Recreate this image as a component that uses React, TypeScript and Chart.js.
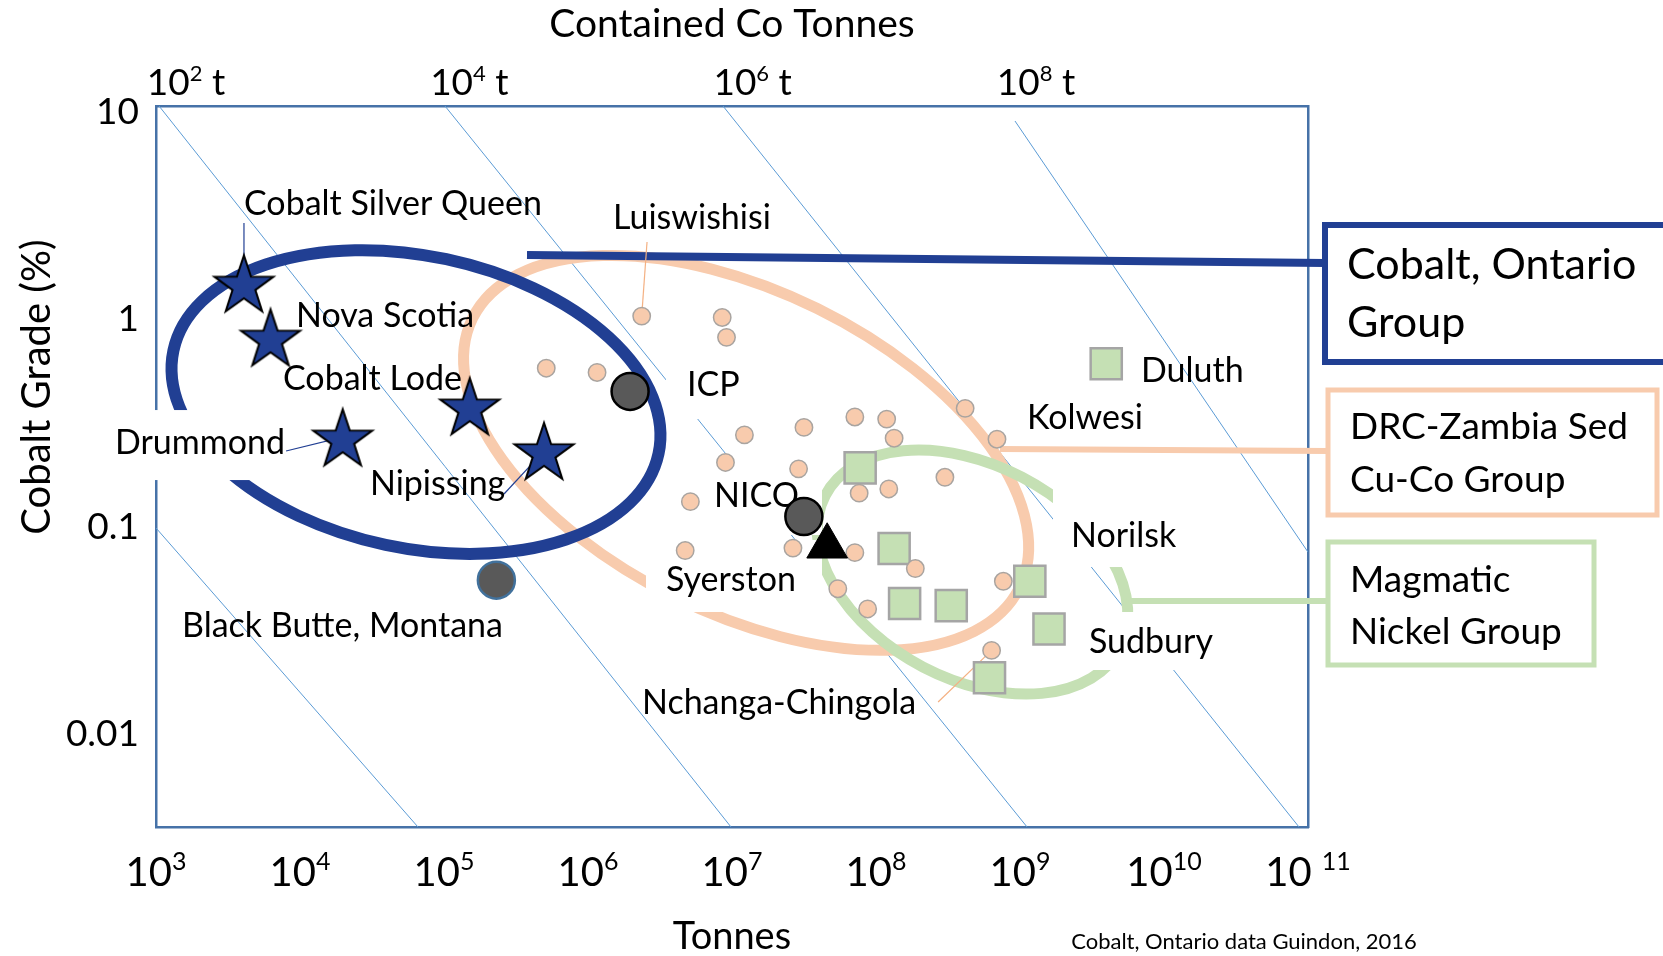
import React, { useEffect, useRef } from 'react';
import { Chart, registerables } from 'chart.js';

Chart.register(...registerables);

const FONT = 'Lato, "Open Sans", "DejaVu Sans", sans-serif';

// ---------------- axes ----------------
const tonnesMin = 1e3;
const tonnesMax = 1e11;
const tonnesTicks = [1e3, 1e4, 1e5, 1e6, 1e7, 1e8, 1e9, 1e10, 1e11];
const tonnesTickBase = ['10', '10', '10', '10', '10', '10', '10', '10', '10 '];
const tonnesTickExp = ['3', '4', '5', '6', '7', '8', '9', '10', '11'];

const containedMin = 61.4;
const containedMax = 8.32e9;
const containedTicks = [1e2, 1e4, 1e6, 1e8];
const containedTickExp = ['2', '4', '6', '8'];

const gradeMin = 0.00356;
const gradeMax = 10.68;
const gradeTicks = [0.01, 0.1, 1, 10];
const gradeTickLabels = ['0.01', '0.1', '1', '10'];

// ---------------- data ----------------
// Cobalt, Ontario group (stars)
const ontarioNames = ['Cobalt Silver Queen', 'Nova Scotia', 'Cobalt Lode', 'Drummond', 'Nipissing'];
const ontarioTonnes = [4080, 6240, 151000, 19800, 495000];
const ontarioGrade = [1.49, 0.818, 0.381, 0.27, 0.232];

// DRC-Zambia sediment-hosted Cu-Co deposits
const drcTonnes = [2.36e6, 8.55e6, 9.16e6, 5.13e5, 1.156e6, 1.22e7, 3.16e7, 7.13e7, 1.186e8, 1.336e8, 4.16e8, 6.92e8, 9.01e6, 2.9e7, 7.64e7, 1.227e8, 3.01e8, 5.14e6, 4.73e6, 2.65e7, 7.13e7, 1.875e8, 7.66e8, 5.43e7, 8.75e7, 6.35e8];
const drcGrade = [1.036, 1.02, 0.818, 0.581, 0.554, 0.277, 0.301, 0.338, 0.33, 0.267, 0.372, 0.264, 0.204, 0.19, 0.145, 0.152, 0.173, 0.132, 0.0767, 0.0788, 0.0749, 0.0628, 0.0545, 0.0502, 0.0401, 0.0253];

// Magmatic nickel deposits
const niTonnes = [3.97e9, 7.76e7, 1.336e8, 1.58e8, 3.33e8, 1.17e9, 1.59e9, 6.14e8];
const niGrade = [0.61, 0.192, 0.0785, 0.0426, 0.0416, 0.0545, 0.0321, 0.01866];

// Other deposits
const otherNames = ['ICP', 'NICO', 'Black Butte, Montana'];
const otherTonnes = [1.96e6, 3.155e7, 2.31e5];
const otherGrade = [0.449, 0.112, 0.0552];

const syerstonTonnes = [4.58e7];
const syerstonGrade = [0.0804];

// contained-metal guide lines (start / end)
const guideStartTonnes = [1000, 1050, 1.016e5, 8.66e6, 9.23e8];
const guideStartGrade = [0.0985, 10.68, 10.68, 10.68, 9.04];
const guideEndTonnes = [65960, 9.84e6, 1.12e9, 8.66e10, 1e11];
const guideEndGrade = [0.00356, 0.00356, 0.00356, 0.00356, 0.0754];

// group envelopes: centre, end of major axis, end of minor axis (data units)
const ontarioEnvelope = { center: [6.39e4, 0.399], majorEnd: [3.09e6, 0.225], minorEnd: [3.93e4, 0.0817] };
const drcEnvelope = { center: [1.253e7, 0.2268], majorEnd: [9.93e8, 0.0508], minorEnd: [4.03e6, 0.0456] };
const niEnvelope = { center: [4.68e8, 0.0604], majorEnd: [4.93e9, 0.0258], minorEnd: [2.12e8, 0.02105] };

// connector origins (data units)
const ontarioConnectorFrom = [3.77e5, 2.04];
const drcConnectorFrom = [7.26e8, 0.2367];
const niConnectorFrom = [5.53e9, 0.0438];

// deposit labels (left / middle anchor, data units)
const labelTexts = ['Cobalt Silver Queen', 'Nova Scotia', 'Cobalt Lode', 'Drummond', 'Nipissing', 'Luiswishisi', 'ICP', 'NICO', 'Syerston', 'Black Butte, Montana', 'Nchanga-Chingola', 'Duluth', 'Kolwesi', 'Norilsk', 'Sudbury'];
const labelTonnes = [4083, 9376, 7620, 519, 30600, 1.49e6, 4.87e6, 7.5e6, 3.48e6, 1516, 2.37e6, 6.92e9, 1.12e9, 2.26e9, 3.01e9];
const labelGrade = [3.6, 1.037, 0.515, 0.253, 0.1605, 3.08, 0.482, 0.1405, 0.0553, 0.0332, 0.0141, 0.563, 0.334, 0.0901, 0.02777];

// leader lines
const leaderFromTonnes = [4083, 8000, 2.61e5, 2.57e6, 2.7e8];
const leaderFromGrade = [2.91, 0.2316, 0.1437, 2.36, 0.01426];
const leaderToTonnes = [4080, 19800, 495000, 2.36e6, 6.35e8];
const leaderToGrade = [1.49, 0.27, 0.232, 1.036, 0.0253];

// ---------------- styles ----------------
const NAVY = '#213F93';
const PEACH = '#F8CBAD';
const PEACH_LINE = '#F4B183';
const GREEN = '#C5E0B4';
const FRAME = '#4672A8';
const GUIDE = '#5B9BD5';

const leaderColors = [NAVY, NAVY, NAVY, PEACH_LINE, PEACH_LINE];

// white masks behind some labels: [dx0, dy0, dx1, dy1] px relative to anchor
const labelMasks: Record<string, number[]> = {
  Drummond: [-7, -33, 181, 37],
  ICP: [-21, -35, 66, 34],
  NICO: [-14, -43, 108, 39],
  Syerston: [-20, -40, 156, 32],
  Norilsk: [-18, -48, 128, 31],
  Sudbury: [-14, -30, 146, 28],
};

const legendBoxes = [
  { lines: ['Cobalt, Ontario', 'Group'], x: 1325, y: 225, w: 345, h: 137, color: NAVY, bw: 6, size: 43, textX: 1347, lineY: [265, 323], joinY: 263, from: ontarioConnectorFrom, joinW: 8 },
  { lines: ['DRC-Zambia Sed', 'Cu-Co Group'], x: 1328, y: 390, w: 329, h: 125, color: PEACH, bw: 5, size: 37, textX: 1350, lineY: [427, 480], joinY: 451, from: drcConnectorFrom, joinW: 6 },
  { lines: ['Magmatic', 'Nickel Group'], x: 1328, y: 542, w: 266, h: 123, color: GREEN, bw: 5, size: 37, textX: 1350, lineY: [580, 632], joinY: 601, from: niConnectorFrom, joinW: 6 },
];

function makeStar(outer: number, inner: number, fill: string, stroke: string, lw: number) {
  const size = Math.ceil(outer * 2 + lw * 2 + 6);
  const c = document.createElement('canvas');
  c.width = size;
  c.height = size;
  const ctx = c.getContext('2d') as CanvasRenderingContext2D;
  const cx = size / 2;
  const cy = size / 2 + outer * 0.095;
  ctx.beginPath();
  for (let i = 0; i < 10; i++) {
    const r = i % 2 === 0 ? outer : inner;
    const ang = -Math.PI / 2 + (i * Math.PI) / 5;
    const px = cx + r * Math.cos(ang);
    const py = cy + r * Math.sin(ang);
    if (i === 0) ctx.moveTo(px, py);
    else ctx.lineTo(px, py);
  }
  ctx.closePath();
  ctx.fillStyle = fill;
  ctx.fill();
  ctx.lineWidth = lw;
  ctx.lineJoin = 'miter';
  ctx.strokeStyle = stroke;
  ctx.stroke();
  return c;
}

function drawPower(ctx: CanvasRenderingContext2D, base: string, exp: string, suffix: string, cx: number, cy: number, size: number, supRatio: number) {
  const sup = Math.round(size * supRatio);
  ctx.font = `${size}px ${FONT}`;
  const wb = ctx.measureText(base).width;
  const ws = suffix ? ctx.measureText(suffix).width : 0;
  ctx.font = `${sup}px ${FONT}`;
  const we = ctx.measureText(exp).width;
  let x = cx - (wb + we + ws) / 2;
  const by = cy + size * 0.36;
  ctx.textAlign = 'left';
  ctx.textBaseline = 'alphabetic';
  ctx.fillStyle = '#000';
  ctx.font = `${size}px ${FONT}`;
  ctx.fillText(base, x, by);
  x += wb;
  ctx.font = `${sup}px ${FONT}`;
  ctx.fillText(exp, x, by - size * 0.4);
  x += we;
  if (suffix) {
    ctx.font = `${size}px ${FONT}`;
    ctx.fillText(suffix, x, by);
  }
}

function drawOverlay(chart: any) {
  const ctx: CanvasRenderingContext2D = chart.ctx;
  const xs = chart.scales.x;
  const ys = chart.scales.y;
  const P = (p: number[]) => ({ x: xs.getPixelForValue(p[0]), y: ys.getPixelForValue(p[1]) });
  ctx.save();

  const envs = [
    { e: drcEnvelope, color: PEACH, w: 11 },
    { e: niEnvelope, color: GREEN, w: 11 },
    { e: ontarioEnvelope, color: NAVY, w: 12 },
  ];
  for (const { e, color, w } of envs) {
    const c = P(e.center);
    const a = P(e.majorEnd);
    const b = P(e.minorEnd);
    const ra = Math.hypot(a.x - c.x, a.y - c.y);
    const rb = Math.hypot(b.x - c.x, b.y - c.y);
    const rot = Math.atan2(a.y - c.y, a.x - c.x);
    ctx.beginPath();
    ctx.ellipse(c.x, c.y, ra, rb, rot, 0, Math.PI * 2);
    ctx.lineWidth = w;
    ctx.strokeStyle = color;
    ctx.stroke();
  }

  // connectors to legend boxes
  for (const lb of legendBoxes) {
    const s = P(lb.from);
    ctx.beginPath();
    ctx.moveTo(s.x, s.y);
    ctx.lineTo(lb.x, lb.joinY);
    ctx.lineWidth = lb.joinW;
    ctx.strokeStyle = lb.color;
    ctx.lineCap = 'butt';
    ctx.stroke();
  }

  // white masks behind some labels
  ctx.fillStyle = '#fff';
  labelTexts.forEach((t, i) => {
    const m = labelMasks[t];
    if (!m) return;
    const p = P([labelTonnes[i], labelGrade[i]]);
    ctx.fillRect(p.x + m[0], p.y + m[1], m[2] - m[0], m[3] - m[1]);
  });

  // leader lines
  leaderFromTonnes.forEach((_, i) => {
    const a = P([leaderFromTonnes[i], leaderFromGrade[i]]);
    const b = P([leaderToTonnes[i], leaderToGrade[i]]);
    ctx.beginPath();
    ctx.moveTo(a.x, a.y);
    ctx.lineTo(b.x, b.y);
    ctx.lineWidth = 1.2;
    ctx.strokeStyle = leaderColors[i];
    ctx.stroke();
  });

  // label text
  ctx.fillStyle = '#000';
  ctx.font = `34px ${FONT}`;
  ctx.textAlign = 'left';
  ctx.textBaseline = 'middle';
  labelTexts.forEach((t, i) => {
    const p = P([labelTonnes[i], labelGrade[i]]);
    ctx.fillText(t, p.x, p.y);
  });

  // legend boxes
  for (const lb of legendBoxes) {
    ctx.fillStyle = '#fff';
    ctx.fillRect(lb.x, lb.y, lb.w, lb.h);
    ctx.lineWidth = lb.bw;
    ctx.strokeStyle = lb.color;
    ctx.strokeRect(lb.x, lb.y, lb.w, lb.h);
    ctx.fillStyle = '#000';
    ctx.font = `${lb.size}px ${FONT}`;
    ctx.textAlign = 'left';
    ctx.textBaseline = 'middle';
    lb.lines.forEach((ln, k) => ctx.fillText(ln, lb.textX, lb.lineY[k]));
  }
  ctx.restore();
}

function drawAxisText(chart: any) {
  const ctx: CanvasRenderingContext2D = chart.ctx;
  const xs = chart.scales.x;
  const xt = chart.scales.xTop;
  ctx.save();
  tonnesTicks.forEach((v, i) => {
    drawPower(ctx, tonnesTickBase[i], tonnesTickExp[i], '', xs.getPixelForValue(v), 872, 40, 0.62);
  });
  containedTicks.forEach((v, i) => {
    drawPower(ctx, '10', containedTickExp[i], ' t', xt.getPixelForValue(v), 82, 37, 0.6);
  });
  // y title
  ctx.translate(37, 387);
  ctx.rotate(-Math.PI / 2);
  ctx.font = `40px ${FONT}`;
  ctx.textAlign = 'center';
  ctx.textBaseline = 'middle';
  ctx.fillStyle = '#000';
  ctx.fillText('Cobalt Grade (%)', 0, 0);
  ctx.setTransform(1, 0, 0, 1, 0, 0);
  ctx.font = `22px ${FONT}`;
  ctx.textAlign = 'center';
  ctx.fillText('Cobalt, Ontario data Guindon, 2016', 1244, 942);
  ctx.restore();
}

const overlayPlugin = {
  id: 'overlay',
  beforeDraw(chart: any) {
    chart.$ovDone = false;
  },
  beforeDatasetDraw(chart: any, args: any) {
    const ds = chart.data.datasets[args.index];
    if (!chart.$ovDone && ds.layer === 'marks') {
      drawOverlay(chart);
      chart.$ovDone = true;
    }
  },
  afterDraw(chart: any) {
    if (!chart.$ovDone) drawOverlay(chart);
    drawAxisText(chart);
  },
};

const pts = (xs: number[], ys: number[]) => xs.map((x, i) => ({ x, y: ys[i] }));

export default function App() {
  const ref = useRef<HTMLCanvasElement | null>(null);
  useEffect(() => {
    if (!ref.current) return;
    const star = makeStar(31, 12, NAVY, '#000', 2);
    const guideSets = guideStartTonnes.map((_, i) => ({
      label: `guide${i}`,
      data: [
        { x: guideStartTonnes[i], y: guideStartGrade[i] },
        { x: guideEndTonnes[i], y: guideEndGrade[i] },
      ],
      showLine: true,
      pointRadius: 0,
      borderColor: GUIDE,
      borderWidth: 1,
      order: 10,
      layer: 'guide',
    }));
    const datasets: any[] = [
      {
        label: 'Syerston',
        data: pts(syerstonTonnes, syerstonGrade),
        pointStyle: 'triangle',
        pointRadius: 23.5,
        backgroundColor: '#000',
        borderColor: '#000',
        borderWidth: 1,
        order: 0,
        layer: 'marks',
      },
      {
        label: 'Other deposits',
        data: pts(otherTonnes, otherGrade),
        names: otherNames,
        pointStyle: 'circle',
        pointRadius: 18.5,
        backgroundColor: '#595959',
        borderColor: ['#000', '#000', '#41719C'],
        borderWidth: 2.5,
        order: 1,
        layer: 'marks',
      },
      {
        label: 'DRC-Zambia Sed Cu-Co Group',
        data: pts(drcTonnes, drcGrade),
        pointStyle: 'circle',
        pointRadius: 8.7,
        backgroundColor: PEACH,
        borderColor: '#A9A4A0',
        borderWidth: 1.5,
        order: 2,
        layer: 'marks',
      },
      {
        label: 'Cobalt, Ontario Group',
        data: pts(ontarioTonnes, ontarioGrade),
        names: ontarioNames,
        pointStyle: star,
        pointRadius: 30,
        order: 3,
        layer: 'marks',
      },
      {
        label: 'Magmatic Nickel Group',
        data: pts(niTonnes, niGrade),
        pointStyle: 'rect',
        pointRadius: 22,
        backgroundColor: GREEN,
        borderColor: '#A5A5A5',
        borderWidth: 2.5,
        order: 4,
        layer: 'marks',
      },
      ...guideSets,
    ];

    const border = { display: true, color: FRAME, width: 2.5 };
    const chart = new Chart(ref.current, {
      type: 'scatter',
      data: { datasets },
      options: {
        responsive: false,
        maintainAspectRatio: false,
        animation: false,
        events: [],
        layout: { padding: 0, autoPadding: false } as any,
        plugins: { legend: { display: false }, tooltip: { enabled: false } },
        scales: {
          x: {
            type: 'logarithmic',
            position: 'bottom',
            min: tonnesMin,
            max: tonnesMax,
            grid: { display: false, drawTicks: false },
            border,
            ticks: { display: false },
            title: { display: true, text: 'Tonnes', color: '#000', font: { family: FONT, size: 38, lineHeight: 1 }, padding: { top: 0, bottom: 0 } },
            afterFit: (s: any) => { s.height = 129; },
          },
          xTop: {
            type: 'logarithmic',
            position: 'top',
            min: containedMin,
            max: containedMax,
            grid: { display: false, drawTicks: false },
            border,
            ticks: { display: false },
            title: { display: true, text: 'Contained Co Tonnes', color: '#000', font: { family: FONT, size: 39, lineHeight: 1 }, padding: { top: 5, bottom: 0 } },
            afterFit: (s: any) => { s.height = 106; },
          },
          y: {
            type: 'logarithmic',
            position: 'left',
            min: gradeMin,
            max: gradeMax,
            grid: { display: false, drawTicks: false },
            border,
            afterBuildTicks: (s: any) => { s.ticks = gradeTicks.map((v) => ({ value: v })); },
            ticks: {
              callback: (_v: any, i: number) => gradeTickLabels[i],
              color: '#000',
              font: { family: FONT, size: 37 },
              padding: 17,
              autoSkip: false,
            },
            afterFit: (s: any) => { s.width = 156; },
          },
          yRight: {
            type: 'logarithmic',
            position: 'right',
            min: gradeMin,
            max: gradeMax,
            grid: { display: false, drawTicks: false },
            border,
            ticks: { display: false },
            afterFit: (s: any) => { s.width = 355; },
          },
        } as any,
      },
      plugins: [overlayPlugin],
    } as any);
    return () => chart.destroy();
  }, []);

  return (
    <div style={{ position: 'absolute', left: 0, top: 0, width: 1663, height: 956, background: '#fff' }}>
      <canvas ref={ref} width={1663} height={956} style={{ display: 'block', width: 1663, height: 956 }} />
    </div>
  );
}
